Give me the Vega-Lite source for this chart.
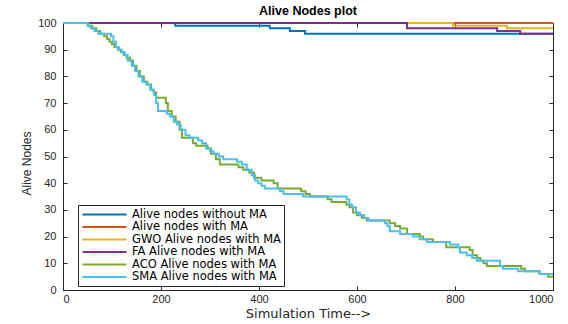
{
  "$schema": "https://vega.github.io/schema/vega-lite/v6.json",
  "autosize": {"type": "none"},
  "padding": {"left": 63, "top": 23, "right": 15, "bottom": 34},
  "width": 490,
  "height": 267,
  "background": "white",
  "title": {"text": "Alive Nodes plot", "font": "Liberation Sans", "fontSize": 12.5, "fontWeight": "bold", "color": "#000000", "offset": 0, "anchor": "middle"},
  "config": {
    "view": {"stroke": "#262626", "strokeWidth": 1},
    "axis": {"labelFont": "Liberation Sans", "titleFont": "DejaVu Sans", "labelColor": "#262626", "titleColor": "#262626", "domainColor": "#262626", "tickColor": "#262626", "grid": false, "labelFontSize": 11, "titleFontSize": 12, "titleFontWeight": "normal"}
  },
  "data": {"values": [
    {"s": "Alive nodes without MA", "t": 0, "n": 100},
    {"s": "Alive nodes without MA", "t": 229, "n": 99},
    {"s": "Alive nodes without MA", "t": 422, "n": 98},
    {"s": "Alive nodes without MA", "t": 463, "n": 97},
    {"s": "Alive nodes without MA", "t": 494, "n": 96},
    {"s": "Alive nodes without MA", "t": 1000, "n": 96},
    {"s": "Alive nodes with MA", "t": 0, "n": 100},
    {"s": "Alive nodes with MA", "t": 1000, "n": 100},
    {"s": "GWO Alive nodes with MA", "t": 0, "n": 100},
    {"s": "GWO Alive nodes with MA", "t": 796, "n": 99},
    {"s": "GWO Alive nodes with MA", "t": 906, "n": 98},
    {"s": "GWO Alive nodes with MA", "t": 1000, "n": 98},
    {"s": "FA Alive nodes with MA", "t": 0, "n": 100},
    {"s": "FA Alive nodes with MA", "t": 702, "n": 98},
    {"s": "FA Alive nodes with MA", "t": 886, "n": 97},
    {"s": "FA Alive nodes with MA", "t": 933, "n": 96},
    {"s": "FA Alive nodes with MA", "t": 1000, "n": 96},
    {"s": "ACO Alive nodes with MA", "t": 0, "n": 100},
    {"s": "ACO Alive nodes with MA", "t": 52, "n": 99},
    {"s": "ACO Alive nodes with MA", "t": 60, "n": 98},
    {"s": "ACO Alive nodes with MA", "t": 68, "n": 97},
    {"s": "ACO Alive nodes with MA", "t": 76, "n": 96},
    {"s": "ACO Alive nodes with MA", "t": 84, "n": 95},
    {"s": "ACO Alive nodes with MA", "t": 90, "n": 94},
    {"s": "ACO Alive nodes with MA", "t": 95, "n": 93},
    {"s": "ACO Alive nodes with MA", "t": 100, "n": 92},
    {"s": "ACO Alive nodes with MA", "t": 105, "n": 91},
    {"s": "ACO Alive nodes with MA", "t": 112, "n": 90},
    {"s": "ACO Alive nodes with MA", "t": 118, "n": 89},
    {"s": "ACO Alive nodes with MA", "t": 124, "n": 88},
    {"s": "ACO Alive nodes with MA", "t": 130, "n": 87},
    {"s": "ACO Alive nodes with MA", "t": 137, "n": 86},
    {"s": "ACO Alive nodes with MA", "t": 143, "n": 84},
    {"s": "ACO Alive nodes with MA", "t": 150, "n": 82},
    {"s": "ACO Alive nodes with MA", "t": 157, "n": 80},
    {"s": "ACO Alive nodes with MA", "t": 165, "n": 78},
    {"s": "ACO Alive nodes with MA", "t": 172, "n": 77},
    {"s": "ACO Alive nodes with MA", "t": 180, "n": 75},
    {"s": "ACO Alive nodes with MA", "t": 185, "n": 74},
    {"s": "ACO Alive nodes with MA", "t": 190, "n": 72},
    {"s": "ACO Alive nodes with MA", "t": 210, "n": 70},
    {"s": "ACO Alive nodes with MA", "t": 214, "n": 67},
    {"s": "ACO Alive nodes with MA", "t": 222, "n": 65},
    {"s": "ACO Alive nodes with MA", "t": 230, "n": 63},
    {"s": "ACO Alive nodes with MA", "t": 238, "n": 60},
    {"s": "ACO Alive nodes with MA", "t": 243, "n": 57},
    {"s": "ACO Alive nodes with MA", "t": 265, "n": 55},
    {"s": "ACO Alive nodes with MA", "t": 272, "n": 54},
    {"s": "ACO Alive nodes with MA", "t": 295, "n": 53},
    {"s": "ACO Alive nodes with MA", "t": 302, "n": 51},
    {"s": "ACO Alive nodes with MA", "t": 312, "n": 49},
    {"s": "ACO Alive nodes with MA", "t": 320, "n": 47},
    {"s": "ACO Alive nodes with MA", "t": 358, "n": 46},
    {"s": "ACO Alive nodes with MA", "t": 368, "n": 45},
    {"s": "ACO Alive nodes with MA", "t": 380, "n": 44},
    {"s": "ACO Alive nodes with MA", "t": 390, "n": 42},
    {"s": "ACO Alive nodes with MA", "t": 405, "n": 41},
    {"s": "ACO Alive nodes with MA", "t": 430, "n": 40},
    {"s": "ACO Alive nodes with MA", "t": 438, "n": 38},
    {"s": "ACO Alive nodes with MA", "t": 486, "n": 37},
    {"s": "ACO Alive nodes with MA", "t": 495, "n": 36},
    {"s": "ACO Alive nodes with MA", "t": 504, "n": 35},
    {"s": "ACO Alive nodes with MA", "t": 540, "n": 34},
    {"s": "ACO Alive nodes with MA", "t": 548, "n": 33},
    {"s": "ACO Alive nodes with MA", "t": 578, "n": 32},
    {"s": "ACO Alive nodes with MA", "t": 585, "n": 31},
    {"s": "ACO Alive nodes with MA", "t": 592, "n": 29},
    {"s": "ACO Alive nodes with MA", "t": 600, "n": 28},
    {"s": "ACO Alive nodes with MA", "t": 610, "n": 27},
    {"s": "ACO Alive nodes with MA", "t": 620, "n": 26},
    {"s": "ACO Alive nodes with MA", "t": 667, "n": 25},
    {"s": "ACO Alive nodes with MA", "t": 678, "n": 24},
    {"s": "ACO Alive nodes with MA", "t": 688, "n": 23},
    {"s": "ACO Alive nodes with MA", "t": 702, "n": 21},
    {"s": "ACO Alive nodes with MA", "t": 728, "n": 20},
    {"s": "ACO Alive nodes with MA", "t": 735, "n": 19},
    {"s": "ACO Alive nodes with MA", "t": 755, "n": 18},
    {"s": "ACO Alive nodes with MA", "t": 782, "n": 16},
    {"s": "ACO Alive nodes with MA", "t": 830, "n": 15},
    {"s": "ACO Alive nodes with MA", "t": 836, "n": 13},
    {"s": "ACO Alive nodes with MA", "t": 845, "n": 12},
    {"s": "ACO Alive nodes with MA", "t": 852, "n": 11},
    {"s": "ACO Alive nodes with MA", "t": 858, "n": 10},
    {"s": "ACO Alive nodes with MA", "t": 865, "n": 9},
    {"s": "ACO Alive nodes with MA", "t": 935, "n": 8},
    {"s": "ACO Alive nodes with MA", "t": 943, "n": 7},
    {"s": "ACO Alive nodes with MA", "t": 972, "n": 6},
    {"s": "ACO Alive nodes with MA", "t": 990, "n": 5},
    {"s": "ACO Alive nodes with MA", "t": 1000, "n": 5},
    {"s": "SMA Alive nodes with MA", "t": 0, "n": 100},
    {"s": "SMA Alive nodes with MA", "t": 50, "n": 99},
    {"s": "SMA Alive nodes with MA", "t": 56, "n": 98},
    {"s": "SMA Alive nodes with MA", "t": 64, "n": 97},
    {"s": "SMA Alive nodes with MA", "t": 72, "n": 96},
    {"s": "SMA Alive nodes with MA", "t": 98, "n": 95},
    {"s": "SMA Alive nodes with MA", "t": 103, "n": 93},
    {"s": "SMA Alive nodes with MA", "t": 108, "n": 91},
    {"s": "SMA Alive nodes with MA", "t": 114, "n": 90},
    {"s": "SMA Alive nodes with MA", "t": 120, "n": 89},
    {"s": "SMA Alive nodes with MA", "t": 126, "n": 88},
    {"s": "SMA Alive nodes with MA", "t": 132, "n": 86},
    {"s": "SMA Alive nodes with MA", "t": 140, "n": 84},
    {"s": "SMA Alive nodes with MA", "t": 147, "n": 82},
    {"s": "SMA Alive nodes with MA", "t": 154, "n": 80},
    {"s": "SMA Alive nodes with MA", "t": 162, "n": 78},
    {"s": "SMA Alive nodes with MA", "t": 170, "n": 77},
    {"s": "SMA Alive nodes with MA", "t": 178, "n": 75},
    {"s": "SMA Alive nodes with MA", "t": 186, "n": 73},
    {"s": "SMA Alive nodes with MA", "t": 190, "n": 70},
    {"s": "SMA Alive nodes with MA", "t": 194, "n": 67},
    {"s": "SMA Alive nodes with MA", "t": 212, "n": 66},
    {"s": "SMA Alive nodes with MA", "t": 218, "n": 65},
    {"s": "SMA Alive nodes with MA", "t": 226, "n": 63},
    {"s": "SMA Alive nodes with MA", "t": 233, "n": 62},
    {"s": "SMA Alive nodes with MA", "t": 240, "n": 60},
    {"s": "SMA Alive nodes with MA", "t": 250, "n": 58},
    {"s": "SMA Alive nodes with MA", "t": 258, "n": 57},
    {"s": "SMA Alive nodes with MA", "t": 276, "n": 56},
    {"s": "SMA Alive nodes with MA", "t": 284, "n": 55},
    {"s": "SMA Alive nodes with MA", "t": 292, "n": 53},
    {"s": "SMA Alive nodes with MA", "t": 300, "n": 52},
    {"s": "SMA Alive nodes with MA", "t": 307, "n": 51},
    {"s": "SMA Alive nodes with MA", "t": 318, "n": 50},
    {"s": "SMA Alive nodes with MA", "t": 327, "n": 49},
    {"s": "SMA Alive nodes with MA", "t": 355, "n": 48},
    {"s": "SMA Alive nodes with MA", "t": 365, "n": 47},
    {"s": "SMA Alive nodes with MA", "t": 375, "n": 45},
    {"s": "SMA Alive nodes with MA", "t": 385, "n": 43},
    {"s": "SMA Alive nodes with MA", "t": 392, "n": 41},
    {"s": "SMA Alive nodes with MA", "t": 398, "n": 40},
    {"s": "SMA Alive nodes with MA", "t": 405, "n": 39},
    {"s": "SMA Alive nodes with MA", "t": 412, "n": 38},
    {"s": "SMA Alive nodes with MA", "t": 443, "n": 37},
    {"s": "SMA Alive nodes with MA", "t": 450, "n": 36},
    {"s": "SMA Alive nodes with MA", "t": 490, "n": 35},
    {"s": "SMA Alive nodes with MA", "t": 579, "n": 34},
    {"s": "SMA Alive nodes with MA", "t": 584, "n": 32},
    {"s": "SMA Alive nodes with MA", "t": 590, "n": 31},
    {"s": "SMA Alive nodes with MA", "t": 598, "n": 29},
    {"s": "SMA Alive nodes with MA", "t": 606, "n": 28},
    {"s": "SMA Alive nodes with MA", "t": 615, "n": 27},
    {"s": "SMA Alive nodes with MA", "t": 623, "n": 26},
    {"s": "SMA Alive nodes with MA", "t": 657, "n": 25},
    {"s": "SMA Alive nodes with MA", "t": 662, "n": 24},
    {"s": "SMA Alive nodes with MA", "t": 667, "n": 22},
    {"s": "SMA Alive nodes with MA", "t": 688, "n": 21},
    {"s": "SMA Alive nodes with MA", "t": 714, "n": 20},
    {"s": "SMA Alive nodes with MA", "t": 728, "n": 19},
    {"s": "SMA Alive nodes with MA", "t": 743, "n": 18},
    {"s": "SMA Alive nodes with MA", "t": 790, "n": 17},
    {"s": "SMA Alive nodes with MA", "t": 806, "n": 16},
    {"s": "SMA Alive nodes with MA", "t": 810, "n": 14},
    {"s": "SMA Alive nodes with MA", "t": 824, "n": 13},
    {"s": "SMA Alive nodes with MA", "t": 835, "n": 12},
    {"s": "SMA Alive nodes with MA", "t": 845, "n": 11},
    {"s": "SMA Alive nodes with MA", "t": 892, "n": 9},
    {"s": "SMA Alive nodes with MA", "t": 898, "n": 8},
    {"s": "SMA Alive nodes with MA", "t": 929, "n": 7},
    {"s": "SMA Alive nodes with MA", "t": 973, "n": 6},
    {"s": "SMA Alive nodes with MA", "t": 1000, "n": 6}
  ]},
  "resolve": {"axis": {"x": "independent", "y": "independent"}},
  "layer": [
    {
      "mark": {"type": "line", "interpolate": "step-after", "strokeWidth": 2},
      "encoding": {
        "x": {"field": "t", "type": "quantitative", "scale": {"domain": [0, 1000], "nice": false},
          "axis": {"title": "Simulation Time-->", "titleFontSize": 13, "values": [0, 200, 400, 600, 800, 1000], "format": "d", "tickSize": -4, "labelPadding": 7, "titlePadding": 3}},
        "y": {"field": "n", "type": "quantitative", "scale": {"domain": [0, 100], "nice": false, "zero": true},
          "axis": {"title": "Alive Nodes", "titleFont": "Liberation Sans", "titleY": 140, "values": [0, 10, 20, 30, 40, 50, 60, 70, 80, 90, 100], "tickSize": -4, "labelPadding": 11, "titlePadding": 4}},
        "color": {"field": "s", "type": "nominal",
          "scale": {"domain": ["Alive nodes without MA", "Alive nodes with MA", "GWO Alive nodes with MA", "FA Alive nodes with MA", "ACO Alive nodes with MA", "SMA Alive nodes with MA"],
            "range": ["#0072BD", "#D95319", "#EDB120", "#7E2F8E", "#77AC30", "#4DBEEE"]},
          "legend": {"title": null, "orient": "none", "legendX": 15, "legendY": 182, "symbolType": "M-4,0H4", "symbolSize": 121, "symbolStrokeWidth": 2, "symbolFillColor": "transparent", "symbolOffset": 17, "labelFont": "DejaVu Sans", "labelFontSize": 11.5, "labelColor": "#000000", "fillColor": "white", "strokeColor": "#262626", "padding": 3, "rowPadding": 0.5, "labelOffset": 21}},
        "order": {"field": "t", "type": "quantitative"}
      }
    },
    {
      "mark": {"type": "line", "opacity": 0},
      "encoding": {
        "x": {"field": "t", "type": "quantitative", "axis": {"orient": "top", "title": null, "labels": false, "domain": false, "values": [0, 200, 400, 600, 800, 1000], "tickSize": -4}},
        "y": {"field": "n", "type": "quantitative", "axis": {"orient": "right", "title": null, "labels": false, "domain": false, "values": [0, 10, 20, 30, 40, 50, 60, 70, 80, 90, 100], "tickSize": -4}},
        "order": {"field": "t", "type": "quantitative"}
      }
    }
  ]
}
